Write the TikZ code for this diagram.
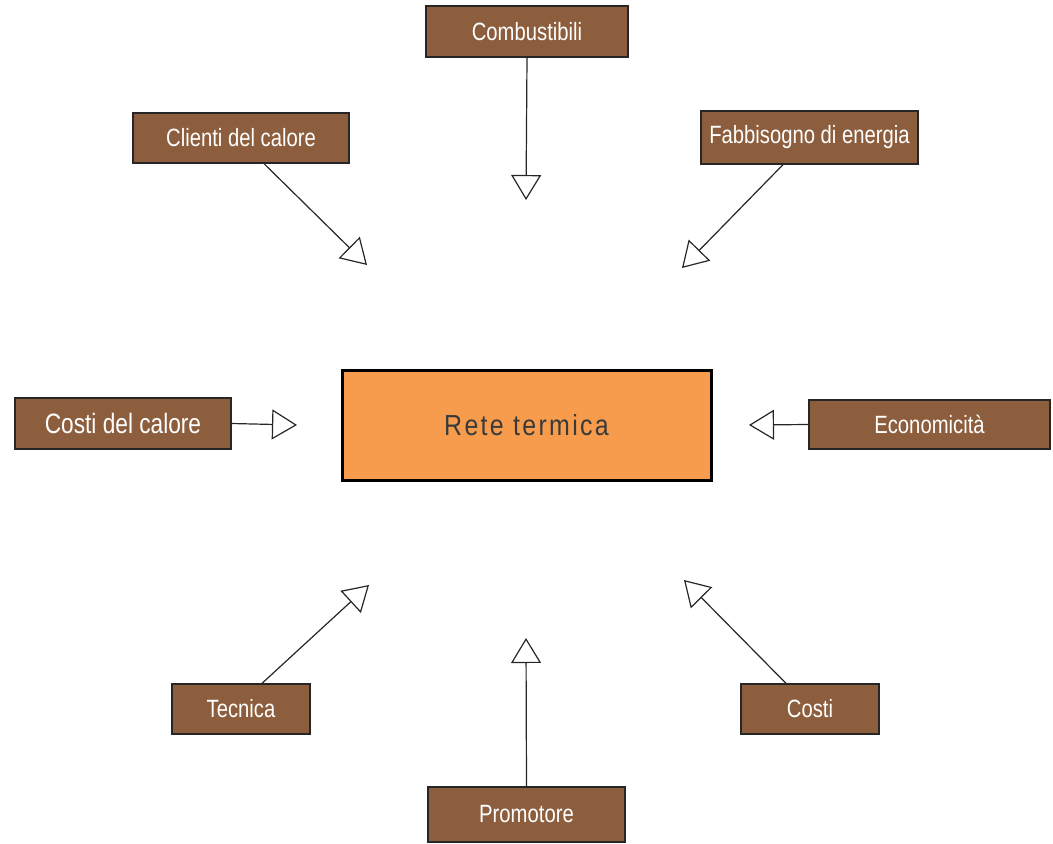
\documentclass[tikz,border=0pt]{standalone}
\usepackage{fontspec}
\setmainfont{Liberation Sans}[FakeStretch=0.81]
\newfontfamily\retefont{Liberation Sans}[FakeStretch=0.86,LetterSpace=8]
\usetikzlibrary{arrows.meta}
\definecolor{boxbrown}{HTML}{8C5E3D}
\definecolor{reteorange}{HTML}{F79C4C}
\definecolor{retetext}{HTML}{3A3A3A}
\tikzset{
  lbl/.style={draw=black!85, line width=1.3pt, fill=boxbrown, text=white, inner sep=0pt, font=\fontsize{25}{29}\selectfont},
  flow/.style={line width=1.2pt, draw=black!85, -{Triangle[open, length=25pt, width=30pt, line width=1.2pt]}}
}
\begin{document}
\begin{tikzpicture}[x=1pt,y=-1pt]
\useasboundingbox (0,0) rectangle (1053,844);
\node[draw=black, line width=3pt, fill=reteorange, text=retetext, minimum width=369pt, minimum height=110pt, inner sep=0pt, font=\retefont\fontsize{29}{34}\selectfont] (rete) at (526.5,425) {Rete termica};
\node[lbl, minimum width=202pt, minimum height=51pt] (comb) at (527,31.5) {Combustibili};
\node[lbl, minimum width=216pt, minimum height=50pt] (clienti) at (241,138) {Clienti del calore};
\node[lbl, minimum width=217pt, minimum height=53pt] (fabb) at (809.5,137.5) {Fabbisogno di energia};
\node[lbl, minimum width=216pt, minimum height=51pt, font=\fontsize{28}{32}\selectfont] (costical) at (123,423.5) {Costi del calore};
\node[lbl, minimum width=241pt, minimum height=49pt] (econ) at (929.5,424.5) {Economicità};
\node[lbl, minimum width=138pt, minimum height=50pt] (tecnica) at (241,709) {Tecnica};
\node[lbl, minimum width=138pt, minimum height=50pt] (costi) at (810,709) {Costi};
\node[lbl, minimum width=197pt, minimum height=55pt] (prom) at (526.5,814.5) {Promotore};
\coordinate (tcomb) at (526,200);
\coordinate (tclienti) at (367,265);
\coordinate (tfabb) at (682,268);
\coordinate (tcostical) at (297,425);
\coordinate (tecon) at (749,425);
\coordinate (ttecnica) at (369,585);
\coordinate (tcosti) at (684,580);
\coordinate (tprom) at (526,638);
\draw[flow] (comb.south) -- (tcomb);
\draw[flow] ([xshift=23pt]clienti.south) -- (tclienti);
\draw[flow] ([xshift=-26.5pt]fabb.south) -- (tfabb);
\draw[flow] (costical.east) -- (tcostical);
\draw[flow] (econ.west) -- (tecon);
\draw[flow] ([xshift=21pt]tecnica.north) -- (ttecnica);
\draw[flow] ([xshift=-24pt]costi.north) -- (tcosti);
\draw[flow] (prom.north) -- (tprom);
\end{tikzpicture}
\end{document}
